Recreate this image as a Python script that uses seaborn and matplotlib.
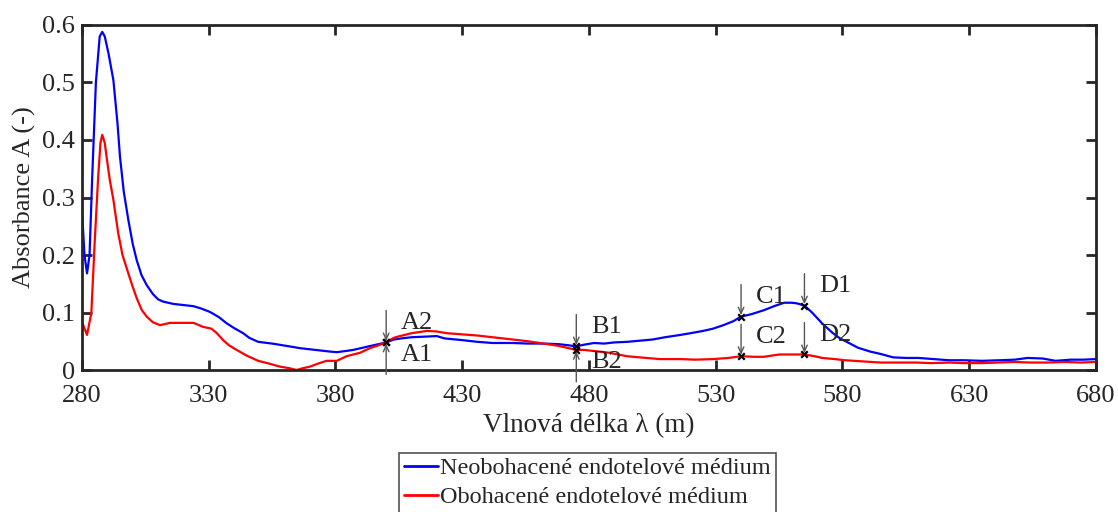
import pandas as pd
import matplotlib.pyplot as plt
import seaborn as sns

# Spectra (wavelength, absorbance)
wl_neo = [280, 281, 282, 283, 284, 285.5, 287, 288, 289, 290.5, 292.4, 294, 295, 296.5,
          298.3, 300, 301.6, 303.5, 305.5, 308, 310, 312, 316, 320, 324, 327, 330.5, 334,
          337, 340, 343.6, 346, 349.5, 355, 362, 366, 370, 374, 378, 380.5, 384, 387, 391,
          394, 397, 400, 403, 406, 410, 415, 420, 423, 430, 436, 442, 450, 456, 462, 468,
          472, 475, 478, 482, 486, 490, 495, 500, 505, 510, 516, 520, 525, 529, 533, 537,
          540, 544, 549, 553, 557, 560, 562, 565, 568, 572, 576, 579, 583, 586, 591, 595,
          600, 605, 610, 616, 622, 628, 635, 642, 648, 653, 659, 664, 670, 675, 680]
abs_neo = [0.278, 0.20, 0.168, 0.20, 0.33, 0.50, 0.58, 0.588, 0.58, 0.55, 0.504, 0.43, 0.371, 0.31,
           0.261, 0.22, 0.191, 0.165, 0.148, 0.132, 0.123, 0.119, 0.115, 0.113, 0.111, 0.107, 0.101, 0.092,
           0.0815, 0.073, 0.064, 0.056, 0.049, 0.046, 0.041, 0.038, 0.036, 0.034, 0.032, 0.031, 0.033, 0.035, 0.039,
           0.042, 0.045, 0.048, 0.053, 0.055, 0.057, 0.058, 0.059, 0.055, 0.052, 0.049, 0.047, 0.047, 0.046, 0.046, 0.045,
           0.043, 0.041, 0.044, 0.047, 0.046, 0.048, 0.049, 0.051, 0.053, 0.057, 0.061, 0.064, 0.068, 0.072, 0.078, 0.085,
           0.093, 0.097, 0.104, 0.111, 0.117, 0.117, 0.116, 0.112, 0.100, 0.081, 0.065, 0.055, 0.046, 0.039, 0.032, 0.028,
           0.022, 0.021, 0.021, 0.019, 0.017, 0.017, 0.016, 0.017, 0.018, 0.021, 0.020, 0.016, 0.018, 0.018, 0.019]

wl_obo = [280, 282, 283.7, 285, 286.4, 287.3, 288, 289, 289.7, 291, 292.4, 294.3, 296, 298.3,
          300, 301.6, 303.5, 305.5, 308, 310.8, 314.7, 320, 324, 327.8, 331, 333, 335.7, 338,
          341, 345, 349.5, 354, 358, 362, 364.7, 367, 370, 373, 376.5, 380.5, 384.4, 387, 389.7,
          393.6, 397, 400, 403, 405.4, 410, 416, 420, 424, 430, 436, 442, 450, 456, 462, 468,
          472, 475, 478, 482, 488, 495, 500, 508, 516, 522, 529, 535, 540, 545, 549, 555, 560,
          565, 569, 572, 577, 581, 588, 595, 602, 609, 615, 622, 628, 635, 641, 648, 654, 661,
          668, 674, 680]
abs_obo = [0.084, 0.061, 0.099, 0.22, 0.336, 0.395, 0.409, 0.395, 0.371, 0.33, 0.296, 0.238, 0.20, 0.168,
           0.145, 0.125, 0.105, 0.093, 0.083, 0.078, 0.082, 0.082, 0.082, 0.075, 0.072, 0.065, 0.052, 0.043,
           0.035, 0.025, 0.016, 0.011, 0.006, 0.003, 0.0, 0.003, 0.006, 0.011, 0.016, 0.016, 0.024, 0.027, 0.030,
           0.038, 0.043, 0.048, 0.056, 0.059, 0.064, 0.068, 0.067, 0.064, 0.062, 0.060, 0.057, 0.053, 0.050, 0.046, 0.042,
           0.038, 0.035, 0.035, 0.033, 0.030, 0.024, 0.022, 0.019, 0.019, 0.018, 0.019, 0.021, 0.024, 0.023, 0.023, 0.027, 0.027,
           0.027, 0.024, 0.021, 0.019, 0.017, 0.015, 0.013, 0.013, 0.013, 0.012, 0.013, 0.012, 0.012, 0.013, 0.014, 0.013, 0.013,
           0.014, 0.013, 0.014]

names = ["Neobohacené endotelové médium", "Obohacené endotelové médium"]

# marked points: label, wavelength, absorbance, arrow direction
mark_labels = ["A2", "A1", "B1", "B2", "C1", "C2", "D1", "D2"]
mark_wl = [400, 400, 475, 475, 540, 540, 565, 565]
mark_abs = [0.048, 0.048, 0.041, 0.035, 0.093, 0.024, 0.112, 0.027]
mark_dir = ["down", "up", "down", "up", "down", "down", "down", "down"]

df = pd.concat([
    pd.DataFrame({"wl": wl_neo, "A": abs_neo, "medium": names[0]}),
    pd.DataFrame({"wl": wl_obo, "A": abs_obo, "medium": names[1]}),
])

sns.set_style("ticks")
plt.rcParams["font.family"] = ["Liberation Serif", "DejaVu Serif"]
dark = "#262626"
arrow_gray = "#555555"

fig = plt.figure(figsize=(11.18, 5.12), dpi=100)
ax = fig.add_axes([0.0733, 0.2773, 0.907, 0.6739])

sns.lineplot(data=df, x="wl", y="A", hue="medium", palette=["#0000ff", "#ff0000"],
             estimator=None, sort=False, linewidth=1.6, ax=ax, legend=False)

ax.scatter(mark_wl, mark_abs, marker="x", color="black", s=22, linewidths=1.6, zorder=5)
for lab, x, y, d in zip(mark_labels, mark_wl, mark_abs, mark_dir):
    sgn = 1 if d == "down" else -1
    # arrow pointing at the marked point
    ax.annotate("", xy=(x, y), xytext=(0, sgn * 23), textcoords="offset points",
                arrowprops=dict(arrowstyle="->,head_length=0.45,head_width=0.2",
                                color=arrow_gray, lw=1.0, shrinkA=0, shrinkB=1))
    ax.annotate(lab, (x, y), xytext=(10.5, 14 if d == "down" else -9),
                textcoords="offset points", ha="left", va="center",
                fontsize=19, color=dark)

ax.set_xlim(280, 680)
ax.set_ylim(0, 0.6)
ax.set_xticks(range(280, 681, 50))
ax.set_yticks([0, 0.1, 0.2, 0.3, 0.4, 0.5, 0.6])
ax.set_yticklabels(["0", "0.1", "0.2", "0.3", "0.4", "0.5", "0.6"])
ax.set_xlabel("Vlnová délka λ (m)", fontsize=19.5, color=dark, labelpad=4)
ax.set_ylabel("Absorbance A (-)", fontsize=19, color=dark, labelpad=4)
ax.tick_params(direction="in", length=7, width=2, top=True, right=True,
               labelsize=19, colors=dark, pad=5)
ax.tick_params(axis="x", pad=11)
for s in ax.spines.values():
    s.set_visible(True)
    s.set_linewidth(2)
    s.set_color(dark)

handles = [plt.Line2D([], [], color="#0000ff", lw=2),
           plt.Line2D([], [], color="#ff0000", lw=2)]
leg = fig.legend(handles, names, loc="upper center", bbox_to_anchor=(0.5255, 0.116),
                 frameon=True, fancybox=False, fontsize=17.5, handlelength=1.4,
                 handletextpad=0.1, borderpad=0.2, labelspacing=0.28, borderaxespad=0)
leg.get_frame().set_edgecolor(dark)
leg.get_frame().set_linewidth(1.2)

fig.savefig("out.png", dpi=100)
